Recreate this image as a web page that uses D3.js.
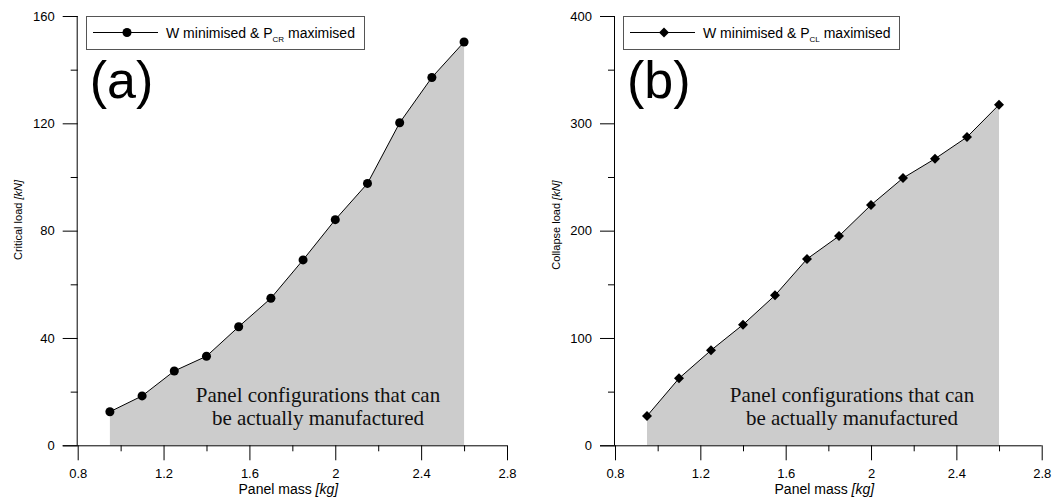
<!DOCTYPE html>
<html>
<head>
<meta charset="utf-8">
<script src="https://cdn.jsdelivr.net/npm/d3@7"></script>
<style>
  body { margin: 0; background: #fff; }
  svg { display: block; }
  .axis text { font-family: "Liberation Sans", Arial, sans-serif; font-size: 13px; fill: #000; }
  .axis path, .axis line { stroke: #000; stroke-width: 1px; }
</style>
</head>
<body>
<div id="chart"></div>
<script>
// panel mass values (kg), shared by both panels
let mass = [0.95, 1.1, 1.25, 1.4, 1.55, 1.7, 1.85, 2.0, 2.15, 2.3, 2.45, 2.6];
// (a) critical load, kN
let criticalLoad = [12.5, 18.4, 27.7, 33.2, 44.2, 54.8, 69.1, 84.1, 97.6, 120.2, 137.1, 150.3];
// (b) collapse load, kN
let collapseLoad = [27.3, 62.4, 88.5, 112.4, 139.7, 173.6, 195.0, 223.9, 249.0, 267.0, 287.2, 317.3];

let xMajor = [0.8, 1.2, 1.6, 2.0, 2.4, 2.8];
let xMinor = [1.0, 1.4, 1.8, 2.2, 2.6];
let yMajorA = [0, 40, 80, 120, 160];
let yMinorA = [20, 60, 100, 140];
let yMajorB = [0, 100, 200, 300, 400];
let yMinorB = [50, 150, 250, 350];

let width = 1054;
let height = 497;

let svg = d3.select("#chart")
  .append("svg")
  .attr("width", width)
  .attr("height", height);

let fmt = d3.format("~g");

// square diamond marker (d3's symbolDiamond is too tall)
let diamond = "M0,-5L5,0L0,5L-5,0Z";
let circle = d3.symbol().type(d3.symbolCircle).size(64)();

function drawPanel(p) {
  let x = d3.scaleLinear().domain([0.8, 2.8]).range([p.left, p.right]);
  let y = d3.scaleLinear().domain(p.yDomain).range([445.3, 16]);
  let g = svg.append("g");

  // shaded area under the curve
  let area = d3.area()
    .x((d, i) => x(mass[i]))
    .y0(y(0))
    .y1(d => y(d));
  g.append("path")
    .datum(p.values)
    .attr("d", area)
    .attr("fill", "#cccccc");

  // annotation inside the shaded region
  let note = g.append("text")
    .attr("text-anchor", "middle")
    .style("font-family", "'Liberation Serif', 'Times New Roman', serif")
    .style("font-size", "21px")
    .attr("fill", "#111");
  note.append("tspan").attr("x", p.noteX).attr("y", 402).text("Panel configurations that can");
  note.append("tspan").attr("x", p.noteX).attr("y", 425).text("be actually manufactured");

  // axes (major + minor ticks)
  g.append("g").attr("class", "axis")
    .attr("transform", "translate(0," + y(0) + ")")
    .call(d3.axisBottom(x).tickValues(xMajor).tickSize(15).tickPadding(8).tickFormat(fmt))
    .call(a => a.select(".domain").attr("d", "M" + (p.left - 15) + ",0.5H" + p.right));
  g.append("g").attr("class", "axis")
    .attr("transform", "translate(0," + y(0) + ")")
    .call(d3.axisBottom(x).tickValues(xMinor).tickSize(6).tickFormat(""))
    .call(a => a.select(".domain").remove());
  g.append("g").attr("class", "axis")
    .attr("transform", "translate(" + x(0.8) + ",0)")
    .call(d3.axisLeft(y).tickValues(p.yMajor).tickSize(15).tickPadding(8).tickFormat(fmt))
    .call(a => a.select(".domain").attr("d", "M-0.5," + y(p.yDomain[1]) + "V" + y(0)));
  g.append("g").attr("class", "axis")
    .attr("transform", "translate(" + x(0.8) + ",0)")
    .call(d3.axisLeft(y).tickValues(p.yMinor).tickSize(7).tickFormat(""))
    .call(a => a.select(".domain").remove());

  // data line + markers
  let line = d3.line().x((d, i) => x(mass[i])).y(d => y(d));
  g.append("path")
    .datum(p.values)
    .attr("d", line)
    .attr("fill", "none")
    .attr("stroke", "#000")
    .attr("stroke-width", 1);
  g.selectAll(".pt")
    .data(p.values)
    .enter()
    .append("path")
    .attr("class", "pt")
    .attr("transform", (d, i) => "translate(" + x(mass[i]) + "," + y(d) + ")")
    .attr("d", p.symbol)
    .attr("fill", "#000");

  // axis titles
  let xt = g.append("text")
    .attr("x", (p.left + p.right) / 2 - 4)
    .attr("y", 494)
    .attr("text-anchor", "middle")
    .style("font-family", "'Liberation Sans', Arial, sans-serif")
    .style("font-size", "14px");
  xt.append("tspan").text("Panel mass ");
  xt.append("tspan").style("font-style", "italic").text("[kg]");

  let yt = g.append("text")
    .attr("transform", "translate(" + p.yTitleX + "," + p.yTitleY + ") rotate(-90)")
    .attr("text-anchor", "middle")
    .style("font-family", "'Liberation Sans', Arial, sans-serif")
    .style("font-size", "11px");
  yt.append("tspan").text(p.yTitle + " ");
  yt.append("tspan").style("font-style", "italic").text("[kN]");

  // legend box
  let lg = g.append("g");
  lg.append("rect")
    .attr("x", p.legX + 0.5).attr("y", 16.5)
    .attr("width", p.legW).attr("height", 33)
    .attr("fill", "#fff")
    .attr("stroke", "#555");
  lg.append("line")
    .attr("x1", p.legX + 7).attr("x2", p.legX + 72)
    .attr("y1", 32.5).attr("y2", 32.5)
    .attr("stroke", "#000");
  lg.append("path")
    .attr("transform", "translate(" + (p.legX + 41) + ",32.5)")
    .attr("d", p.symbol)
    .attr("fill", "#000");
  let lt = lg.append("text")
    .attr("x", p.legX + 80)
    .attr("y", 37.5)
    .style("font-family", "'Liberation Sans', Arial, sans-serif")
    .style("font-size", "14px");
  lt.append("tspan").text("W minimised & P");
  lt.append("tspan").attr("dy", 4).style("font-size", "8px").text(p.sub);
  lt.append("tspan").attr("dy", -4).text(" maximised");

  // panel label
  g.append("text")
    .attr("x", p.left + 12)
    .attr("y", 98)
    .style("font-family", "'Liberation Sans', Arial, sans-serif")
    .style("font-size", "52px")
    .text(p.label);
}

drawPanel({
  left: 77.7, right: 507, yDomain: [0, 160],
  values: criticalLoad, yMajor: yMajorA, yMinor: yMinorA,
  symbol: circle,
  noteX: 318, yTitleX: 22, yTitleY: 220, yTitle: "Critical load",
  legX: 86, legW: 278, sub: "CR", label: "(a)"
});

drawPanel({
  left: 615, right: 1041.7, yDomain: [0, 400],
  values: collapseLoad, yMajor: yMajorB, yMinor: yMinorB,
  symbol: diamond,
  noteX: 852, yTitleX: 560, yTitleY: 225, yTitle: "Collapse load",
  legX: 623, legW: 276, sub: "CL", label: "(b)"
});
</script>
</body>
</html>
